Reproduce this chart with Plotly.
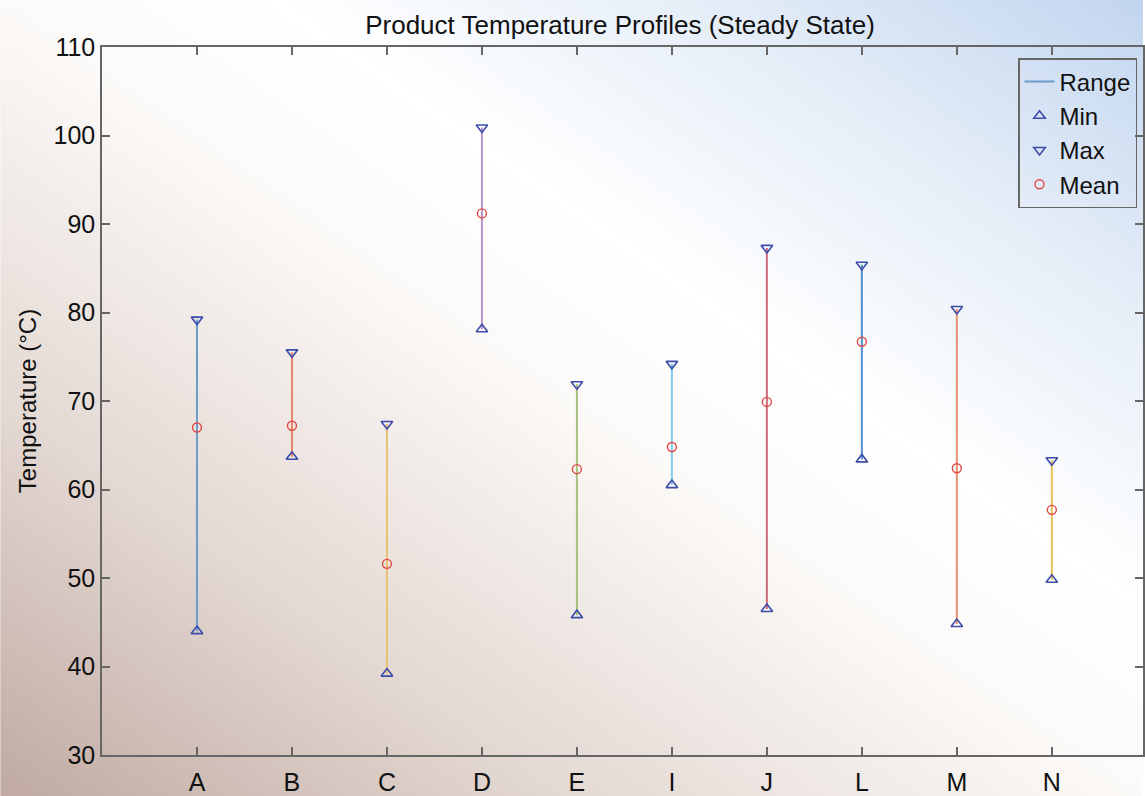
import base64
import plotly.graph_objects as go

categories = ["A", "B", "C", "D", "E", "I", "J", "L", "M", "N"]
min_vals = [44.0, 63.7, 39.2, 78.1, 45.8, 60.5, 46.5, 63.4, 44.8, 49.8]
max_vals = [79.2, 75.5, 67.4, 100.9, 71.9, 74.2, 87.3, 85.4, 80.4, 63.3]
mean_vals = [67.0, 67.2, 51.6, 91.2, 62.3, 64.8, 69.9, 76.7, 62.4, 57.7]
line_colors = ["#6a9ccb", "#e8856d", "#e8c274", "#b993cc", "#a6c27a",
               "#83cbe8", "#cd6b7c", "#4f8fd0", "#e8916f", "#e8c155"]
y_ticks = [30, 40, 50, 60, 70, 80, 90, 100, 110]

W, H = 1145, 796
ML, MR, MT, MB = 102, 0, 47, 41
PW, PH = W - ML - MR, H - MT - MB

svg = f'''<svg xmlns="http://www.w3.org/2000/svg" width="{W}" height="{H}" viewBox="0 0 {W} {H}" preserveAspectRatio="none">
<defs><linearGradient id="g" x1="0" y1="1" x2="1" y2="0">
<stop offset="0" stop-color="#c0aaa2"/>
<stop offset="0.25" stop-color="#e4d9d3"/>
<stop offset="0.5" stop-color="#fcfaf8"/>
<stop offset="0.62" stop-color="#ffffff"/>
<stop offset="0.8" stop-color="#e6eef8"/>
<stop offset="1" stop-color="#c2d5ef"/>
</linearGradient></defs>
<rect x="0" y="0" width="{W}" height="{H}" fill="url(#g)"/>
</svg>'''
src = "data:image/svg+xml;base64," + base64.b64encode(svg.encode()).decode()

xs = list(range(len(categories)))
fig = go.Figure()

for i, c in enumerate(categories):
    fig.add_trace(go.Scatter(
        x=[xs[i], xs[i]], y=[min_vals[i], max_vals[i]], mode="lines",
        line=dict(color=line_colors[i], width=2),
        name="Range", legendgroup="range", showlegend=(i == 0),
        hoverinfo="skip"))

marker_edge = "#3c4ca8"
fig.add_trace(go.Scatter(
    x=xs, y=min_vals, mode="markers", name="Min",
    marker=dict(symbol="triangle-up-open", size=10, color=marker_edge,
                line=dict(width=1.6, color=marker_edge))))
fig.add_trace(go.Scatter(
    x=xs, y=max_vals, mode="markers", name="Max",
    marker=dict(symbol="triangle-down-open", size=10, color=marker_edge,
                line=dict(width=1.6, color=marker_edge))))
fig.add_trace(go.Scatter(
    x=xs, y=mean_vals, mode="markers", name="Mean",
    marker=dict(symbol="circle-open", size=9, color="#e04848",
                line=dict(width=1.4, color="#e04848"))))

font = "Liberation Sans, Arial, sans-serif"
axis_common = dict(showline=True, linecolor="#666666", linewidth=1.5,
                   ticks="inside", ticklen=8, tickcolor="#666666",
                   tickwidth=1.5, mirror="ticks", showgrid=False,
                   zeroline=False, tickfont=dict(family=font, size=25, color="#111111"))

fig.update_layout(
    width=W, height=H,
    margin=dict(l=ML, r=MR, t=MT, b=MB),
    paper_bgcolor="white", plot_bgcolor="rgba(0,0,0,0)",
    title=dict(text="Product Temperature Profiles (Steady State)",
               xref="container", x=620 / W, xanchor="center",
               yref="container", y=1 - 25 / H, yanchor="middle",
               font=dict(family=font, size=26, color="#111111")),
    xaxis=dict(range=[-1, 9.96], tickmode="array", tickvals=xs,
               ticktext=categories, ticklabelstandoff=4, **axis_common),
    yaxis=dict(range=[30, 110], tickmode="array", tickvals=y_ticks,
               title=dict(text="Temperature (°C)", standoff=10,
                          font=dict(family=font, size=24, color="#111111")),
               **axis_common),
    legend=dict(x=(1139 - ML) / PW, xanchor="right",
                y=(H - MB - 58) / PH, yanchor="top",
                bgcolor="rgba(0,0,0,0)", bordercolor="#666666", borderwidth=1.5,
                font=dict(family=font, size=24, color="#111111"),
                tracegroupgap=0, itemwidth=30),
    images=[dict(source=src, xref="paper", yref="paper",
                 x=-ML / PW, y=1 + MT / PH, sizex=W / PW, sizey=H / PH,
                 xanchor="left", yanchor="top", sizing="stretch",
                 layer="below")],
    showlegend=True,
)

fig.write_html("out.html", config={"displayModeBar": False},
               post_script="document.body.style.margin='0';document.body.style.overflow='hidden';")
